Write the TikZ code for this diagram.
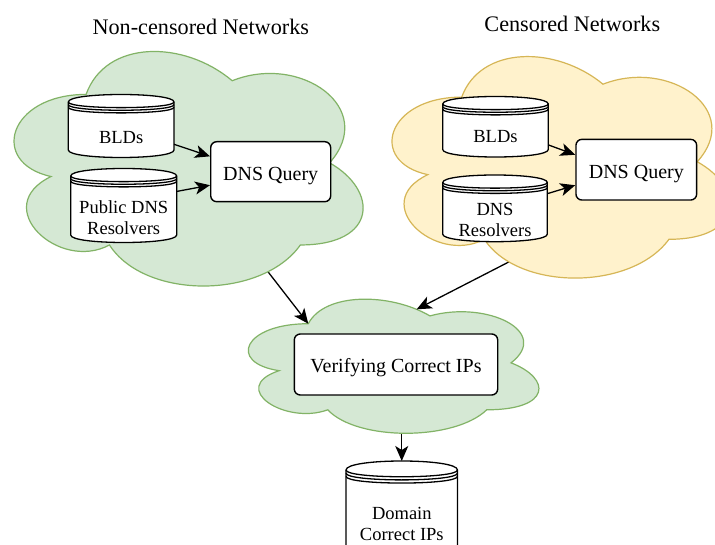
\documentclass[tikz,border=0pt]{standalone}
\usepackage{fontspec}
\setmainfont{Liberation Serif}
\newfontfamily\srf{Liberation Serif}
\usetikzlibrary{calc,arrows.meta}
\definecolor{gfill}{HTML}{D5E8D4}
\definecolor{gline}{HTML}{82B366}
\definecolor{yfill}{HTML}{FFF2CC}
\definecolor{yline}{HTML}{D6B656}
\tikzset{
  cloudg/.style={fill=gfill,draw=gline,line width=1.2pt},
  cloudy/.style={fill=yfill,draw=yline,line width=1.2pt},
  cloudpath/.style={insert path={(0.25,0.25) .. controls (0.05,0.25) and (0,0.5) .. (0.16,0.55)
     .. controls (0,0.66) and (0.18,0.9) .. (0.31,0.8)
     .. controls (0.4,1) and (0.7,1) .. (0.8,0.8)
     .. controls (1,0.8) and (1,0.6) .. (0.875,0.5)
     .. controls (1,0.3) and (0.8,0.1) .. (0.625,0.2)
     .. controls (0.5,0.05) and (0.3,0.05) .. (0.25,0.25) -- cycle}},
  qbox/.style={draw,fill=white,rounded corners=6pt,line width=1.4pt,
     font=\srf\fontsize{20}{24}\selectfont,text height=17pt,text depth=0pt,inner sep=0pt},
  dsnode/.style={inner sep=0pt,outer sep=0pt,anchor=north west},
  dsline/.style={line width=1.3pt},
  dstext/.style={font=\srf\fontsize{18.5}{21}\selectfont,align=center,inner sep=0pt},
  titletext/.style={font=\srf\fontsize{22.2}{26}\selectfont,inner sep=0pt,anchor=base},
  conn/.style={line width=1.3pt,-{Stealth[length=15pt,width=13pt,inset=4pt]}},
}
% #1 name, #2 x, #3 y, #4 w, #5 h, #6 dy
\newcommand\dstore[6]{%
  \node[dsnode,minimum width=#4pt,minimum height=#5pt] (#1) at (#2,#3) {};
  \begin{scope}[shift={(#2,#3)}]
    \draw[dsline,fill=white] (0,#6) .. controls (0,{-#6/3}) and (#4,{-#6/3}) .. (#4,#6)
      -- (#4,{#5-#6}) .. controls (#4,{#5+#6/3}) and (0,{#5+#6/3}) .. (0,{#5-#6}) -- cycle;
    \draw[dsline] (0,#6) .. controls (0,{2*#6}) and (#4,{2*#6}) .. (#4,#6);
    \draw[dsline] (0,{1.35*#6}) .. controls (0,{2.35*#6}) and (#4,{2.35*#6}) .. (#4,{1.35*#6});
    \draw[dsline] (0,{1.7*#6}) .. controls (0,{2.7*#6}) and (#4,{2.7*#6}) .. (#4,{1.7*#6});
  \end{scope}}
\begin{document}
\begin{tikzpicture}[x=1pt,y=-1pt]
\useasboundingbox (0,0) rectangle (715,545);
\fill[white] (0,0) rectangle (715,545);

% bottom cloud geometry (coordinates only)
\begin{scope}[shift={(227.2,284.6)},xscale=324.4,yscale=156.5]
  \coordinate (bc) at (0.5,0.5);
  \coordinate (bcin) at (0.535,0.7);
  \coordinate (bct1) at (0.25,0.25);
  \coordinate (bct2) at (0.584,0.158);
\end{scope}
\begin{scope}[shift={(-11.3,26)},xscale=389.6,yscale=273.7]
  \coordinate (lc) at (0.5,0.5);
\end{scope}
\coordinate (rcout) at (527.8,252.2);

% domain cylinder node (drawn later)
\node[dsnode,minimum width=111.5pt,minimum height=100pt] (dom) at (346,461) {};

% arrow from bottom cloud to domain store
\draw[conn] (dom.north |- bcin) -- (dom.north);

% bottom cloud
\begin{scope}[shift={(227.2,284.6)},xscale=324.4,yscale=156.5]
  \path[cloudg,cloudpath];
\end{scope}

% arrows from top clouds to bottom cloud
\draw[conn] (lc) -- (bct1);
\draw[conn] (rcout) -- (bct2);

% top clouds
\begin{scope}[shift={(-11.3,26)},xscale=389.6,yscale=273.7]
  \path[cloudg,cloudpath];
\end{scope}
\begin{scope}[shift={(367.5,32.5)},xscale=376.8,yscale=258.5]
  \path[cloudy,cloudpath];
\end{scope}

% titles
\node[titletext] (t1) at (200.8,34.3) {Non-censored Networks};
\node[titletext] (t2) at (572.3,31.7) {Censored Networks};

% left cloud content
\dstore{bld1}{68.3}{94.5}{105.7}{63}{7.5}
\node[dstext,anchor=base] (bld1t) at (121.2,143.3) {BLDs};
\dstore{pub1}{70.7}{168.5}{106}{74}{7.5}
\node[dstext] (pub1t) at (123.7,217.2) {Public DNS\\Resolvers};
\node[qbox,minimum width=120pt,minimum height=60pt] (q1) at (270.7,171.7) {DNS Query};
\draw[conn] ($(bld1.north east)!0.79!(bld1.south east)$) -- ($(q1.north west)!0.25!(q1.south west)$);
\draw[conn] ($(pub1.north east)!0.31!(pub1.south east)$) -- ($(q1.north west)!0.72!(q1.south west)$);

% right cloud content
\dstore{bld2}{442.7}{96.5}{105.6}{60.5}{7.5}
\node[dstext,anchor=base] (bld2t) at (495.5,142.3) {BLDs};
\dstore{res2}{442.7}{175}{104.6}{66.7}{7.5}
\node[dstext] (res2t) at (495,220.3) {DNS\\Resolvers};
\node[qbox,minimum width=120.7pt,minimum height=60.7pt] (q2) at (636.3,169.7) {DNS Query};
\draw[conn] ($(bld2.north east)!0.8!(bld2.south east)$) -- ($(q2.north west)!0.26!(q2.south west)$);
\draw[conn] ($(res2.north east)!0.28!(res2.south east)$) -- ($(q2.north west)!0.75!(q2.south west)$);

% verifying box
\node[qbox,minimum width=203.4pt,minimum height=61pt] (ver) at (396,364.5) {Verifying Correct IPs};

% domain store drawing
\dstore{domshape}{346}{461}{111.5}{100}{9}
\node[dstext] (domt) at (401.8,523.5) {Domain\\Correct IPs};
\end{tikzpicture}
\end{document}
